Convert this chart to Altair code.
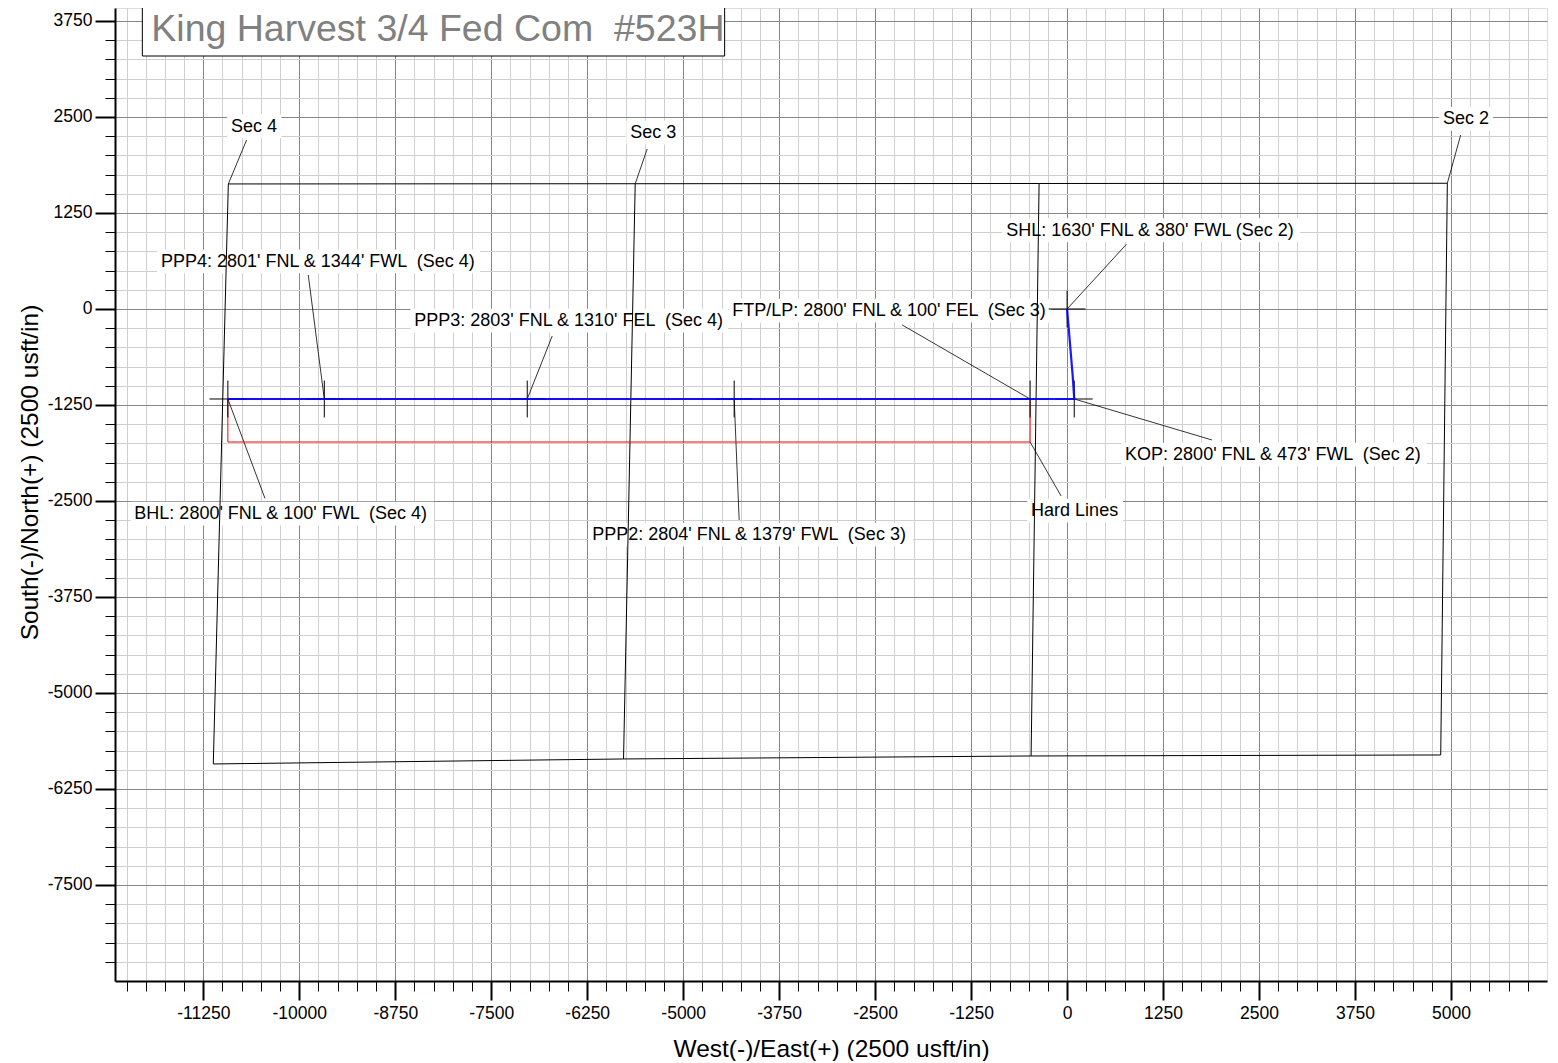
import altair as alt
import pandas as pd

FONT = "Liberation Sans"
NB = "\u00a0"  # keeps the double spaces of the original labels visible

# ---- axis tick values (usft) ----
x_major_ticks = [-11250, -10000, -8750, -7500, -6250, -5000, -3750, -2500, -1250, 0, 1250, 2500, 3750, 5000]
x_minor_ticks = list(range(-12250, 6001, 250))
y_major_ticks = [-7500, -6250, -5000, -3750, -2500, -1250, 0, 1250, 2500, 3750]
y_minor_ticks = list(range(-8500, 3751, 250))
x_domain = [-12400, 6250]
y_domain = [-8750, 3919]

# ---- section boundaries ----
outline_x = [-10924, -5625, -365, 4952, 4866, -469, -5777, -11120, -10924]
outline_y = [1628, 1631, 1634, 1637, -5807, -5820, -5859, -5924, 1628]
sec34_x = [-5625, -5777]
sec34_y = [1631, -5859]
sec23_x = [-365, -469]
sec23_y = [1634, -5820]

# ---- well path ----
well_x = [0, 72, 93, -482, -4336, -7031, -9674, -10930]
well_y = [0, -860, -1172, -1172, -1172, -1172, -1172, -1172]

# ---- hard lines ----
hard_x = [-10930, -482, -482, -10930, -10930]
hard_y = [-1172, -1172, -1732, -1732, -1172]

# ---- crosshair points ----
cross_name = ["SHL", "KOP", "FTP/LP", "PPP2", "PPP3", "PPP4", "BHL"]
cross_x = [0, 93, -482, -4336, -7031, -9674, -10930]
cross_y = [0, -1172, -1172, -1172, -1172, -1172, -1172]
cross_half = 240

# ---- annotations ----
label_text = [
    "Sec 4",
    "Sec 3",
    "Sec 2",
    "SHL: 1630' FNL & 380' FWL (Sec 2)",
    "PPP4: 2801' FNL & 1344' FWL " + NB + "(Sec 4)",
    "PPP3: 2803' FNL & 1310' FEL " + NB + "(Sec 4)",
    "FTP/LP: 2800' FNL & 100' FEL " + NB + "(Sec 3)",
    "KOP: 2800' FNL & 473' FWL " + NB + "(Sec 2)",
    "Hard Lines",
    "BHL: 2800' FNL & 100' FWL " + NB + "(Sec 4)",
    "PPP2: 2804' FNL & 1379' FWL " + NB + "(Sec 3)",
]
label_left = [-10889, -5690, 4896, -794, -11801, -8503, -4362, 755, -469, -12148, -6185]
label_right = [-10283, -5078, 5495, 2982, -7695, -4466, -260, 4635, 677, -8294, -2057]
label_y = [2374, 2292, 2470, 1020, 616, -156, -26, -1901, -2630, -2669, -2943]
leader_x = [-10686, -5469, 5126, 772, -9883, -6706, -2148, 1888, -78, -10447, -4271]
leader_y = [2201, 2083, 2266, 842, 443, -352, -208, -1706, -2435, -2465, -2747]
target_x = [-10924, -5625, 4952, 0, -9674, -7031, -482, 93, -482, -10930, -4336]
target_y = [1628, 1631, 1637, 0, -1172, -1172, -1172, -1172, -1732, -1172, -1172]

title_text = "King Harvest 3/4 Fed Com " + NB + "#523H"
title_box = {"x": -12044, "x2": -4460, "y": 3294, "y2": 4300}
title_pos = {"x": -11927, "y": 3494}

# ---------------------------------------------------------------
xs = alt.Scale(domain=x_domain, nice=False, zero=False)
ys = alt.Scale(domain=y_domain, nice=False, zero=False)


def X(f, axis=None):
    return alt.X(f, type="quantitative", scale=xs, axis=axis)


def Y(f, axis=None):
    return alt.Y(f, type="quantitative", scale=ys, axis=axis)


dummy = pd.DataFrame({"x": [0], "y": [0]})

minor_axes = alt.Chart(dummy).mark_point(opacity=0).encode(
    x=X("x", alt.Axis(values=x_minor_ticks, orient="bottom", grid=True, gridColor="#cfcfcf",
                      gridWidth=1, ticks=True, tickSize=10, tickWidth=1, tickColor="black",
                      labels=False, domain=False, title=None)),
    y=Y("y", alt.Axis(values=y_minor_ticks, orient="left", grid=True, gridColor="#cfcfcf",
                      gridWidth=1, ticks=True, tickSize=10, tickWidth=1, tickColor="black",
                      labels=False, domain=False, title=None)),
)

major_axes = alt.Chart(dummy).mark_point(opacity=0).encode(
    x=X("x", alt.Axis(values=x_major_ticks, orient="bottom", grid=True, gridColor="#858585",
                      gridWidth=1, ticks=True, tickSize=19, tickWidth=2, tickColor="black",
                      labels=True, labelFont=FONT, labelFontSize=17.5, labelColor="black",
                      labelPadding=4, labelFlush=False, labelOverlap=False,
                      labelExpr="'' + datum.value",
                      domain=True, domainColor="black", domainWidth=2,
                      title="West(-)/East(+) (2500 usft/in)", titleFont=FONT, titleFontSize=24.5,
                      titleFontWeight="normal", titleColor="black", titleBaseline="alphabetic",
                      titleY=75)),
    y=Y("y", alt.Axis(values=y_major_ticks, orient="left", grid=True, gridColor="#858585",
                      gridWidth=1, ticks=True, tickSize=20, tickWidth=2, tickColor="black",
                      labels=True, labelFont=FONT, labelFontSize=17.5, labelColor="black",
                      labelPadding=3, labelFlush=False, labelOverlap=False,
                      labelExpr="'' + datum.value",
                      domain=True, domainColor="black", domainWidth=2,
                      title="South(-)/North(+) (2500 usft/in)", titleFont=FONT, titleFontSize=24.5,
                      titleFontWeight="normal", titleColor="black", titleBaseline="alphabetic",
                      titleAngle=270, titleX=-78, titleY=464, titleAlign="center")),
)

# title box
tb = pd.DataFrame([title_box])
title_rect = alt.Chart(tb).mark_rect(fill="white", stroke="black", strokeWidth=1).encode(
    x=X("x"), x2="x2", y=Y("y"), y2="y2")
title_txt = alt.Chart(pd.DataFrame([{**title_pos, "t": title_text}])).mark_text(
    align="left", baseline="alphabetic", font=FONT, fontSize=37.5, color="#808080"
).encode(x=X("x"), y=Y("y"), text="t:N")

# labels
lab = pd.DataFrame({
    "t": label_text, "xl": label_left, "xr": label_right, "y": label_y,
    "lx": leader_x, "ly": leader_y, "tx": target_x, "ty": target_y,
})
lab["bx"] = lab["xl"] - 50
lab["bx2"] = lab["xr"] + 50
lab["by"] = lab["y"] - 150
lab["by2"] = lab["y"] + 160

label_boxes = alt.Chart(lab).mark_rect(fill="white", stroke=None).encode(
    x=X("bx"), x2="bx2", y=Y("by"), y2="by2")
label_txt = alt.Chart(lab).mark_text(
    align="left", baseline="middle", font=FONT, fontSize=18, color="black"
).encode(x=X("xl"), y=Y("y"), text="t:N")
leaders = alt.Chart(lab).mark_rule(color="black", strokeWidth=0.8).encode(
    x=X("lx"), y=Y("ly"), x2="tx", y2="ty")

# sections
rows = []
for seg, (xx, yy) in enumerate([(outline_x, outline_y), (sec34_x, sec34_y), (sec23_x, sec23_y)]):
    for i, (a, b) in enumerate(zip(xx, yy)):
        rows.append({"x": a, "y": b, "seg": seg, "o": i})
sec_df = pd.DataFrame(rows)
sections = alt.Chart(sec_df).mark_line(color="black", strokeWidth=1).encode(
    x=X("x"), y=Y("y"), detail="seg:N", order="o:Q")

hard_df = pd.DataFrame({"x": hard_x, "y": hard_y, "o": list(range(len(hard_x)))})
hard = alt.Chart(hard_df).mark_line(color="#ff0000", strokeWidth=1).encode(
    x=X("x"), y=Y("y"), order="o:Q")

cr = pd.DataFrame({"name": cross_name, "x": cross_x, "y": cross_y})
cr["x1"] = cr["x"] - cross_half
cr["x2"] = cr["x"] + cross_half
cr["y1"] = cr["y"] - cross_half
cr["y2"] = cr["y"] + cross_half
cross_h = alt.Chart(cr).mark_rule(color="black", strokeWidth=1).encode(
    x=X("x1"), x2="x2", y=Y("y"))
cross_v = alt.Chart(cr).mark_rule(color="black", strokeWidth=1).encode(
    x=X("x"), y=Y("y1"), y2="y2")

well_df = pd.DataFrame({"x": well_x, "y": well_y, "o": list(range(len(well_x)))})
well = alt.Chart(well_df).mark_line(color="#0000ff", strokeWidth=2.2, opacity=0.9).encode(
    x=X("x"), y=Y("y"), order="o:Q")

chart = alt.layer(
    minor_axes, major_axes, title_rect, title_txt, label_boxes, label_txt,
    sections, leaders, hard, cross_h, cross_v, well,
).resolve_axis(x="independent", y="independent").properties(
    width=1432, height=973,
    autosize=alt.AutoSizeParams(type="none"),
    padding={"left": 107, "top": 0, "right": 3, "bottom": 80},
).configure_view(stroke=None).configure(background="white")

chart.save("out.html", embed_options={"renderer": "svg", "actions": False})
